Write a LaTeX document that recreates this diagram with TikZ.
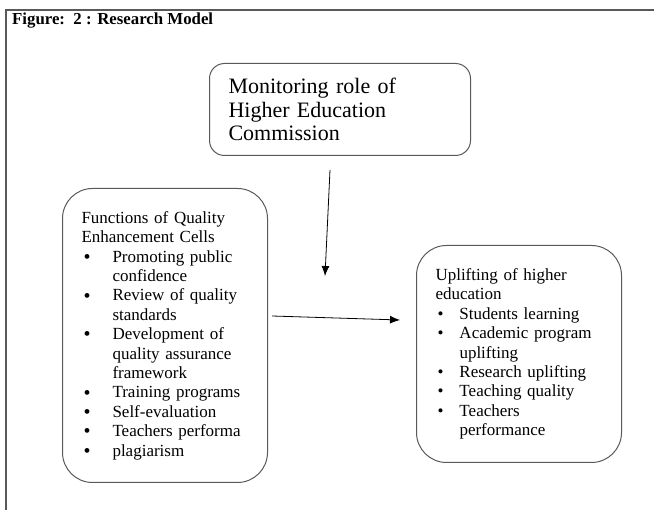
\documentclass[tikz,border=0pt]{standalone}
\usepackage{fontspec}
\setmainfont{Liberation Serif}
\usetikzlibrary{arrows.meta}

\tikzset{
  roundbox/.style={draw=black!65, line width=1pt, align=left, anchor=north west,
    inner xsep=19pt, inner ysep=0pt},
  flow/.style={-{Latex[length=10pt,width=8pt]}, line width=0.8pt},
  frameline/.style={draw=black!65, line width=1.3pt},
}
\newcommand{\bigbul}{\makebox[31pt][l]{\hspace{2pt}\smash{\raisebox{-1.2pt}{\fontsize{20}{19.4}\selectfont\textbullet}}}}
\newcommand{\smallbul}{\makebox[24pt][l]{\hspace{2pt}\textbullet}}

\begin{document}
\begin{tikzpicture}[x=1pt,y=-1pt]
\useasboundingbox (0,0) rectangle (654,510);

% page frame and title:
\draw[frameline] (6,510) -- (6,10) -- (654,10);
\node[anchor=west, font=\fontsize{16.8}{18}\selectfont\bfseries, inner sep=0pt] (title) at (12,21) {Figure:\ \ 2 : Research Model};

% monitoring box:
\node[roundbox, rounded corners=15pt, text width=223pt, minimum height=92pt,
  font=\fontsize{22}{23.5}\selectfont] (hec) at (209,63)
  {Monitoring role of\\Higher Education\\Commission};

% quality enhancement cells:
\node[roundbox, rounded corners=30pt, text width=167pt, minimum height=294pt,
  font=\fontsize{17}{19.4}\selectfont] (qec) at (62,188)
  {Functions of Quality\\Enhancement Cells\\
   \bigbul Promoting public\\\hspace*{31pt}confidence\\
   \bigbul Review of quality\\\hspace*{31pt}standards\\
   \bigbul Development of\\\hspace*{31pt}quality assurance\\\hspace*{31pt}framework\\
   \bigbul Training programs\\
   \bigbul Self-evaluation\\
   \bigbul Teachers performa\\
   \bigbul plagiarism\\[28pt]};

% uplifting box:
\node[roundbox, rounded corners=30pt, text width=167pt, minimum height=217pt,
  font=\fontsize{17}{19.4}\selectfont] (uhe) at (416,245)
  {Uplifting of higher\\education\\
   \smallbul Students learning\\
   \smallbul Academic program\\\hspace*{24pt}uplifting\\
   \smallbul Research uplifting\\
   \smallbul Teaching quality\\
   \smallbul Teachers\\\hspace*{24pt}performance};

% arrows:
\coordinate (downStart) at (330,170);
\coordinate (downEnd) at (325,276);
\coordinate (rightStart) at (272,316);
\coordinate (rightEnd) at (400,320);
\draw[flow] (downStart) -- (downEnd);
\draw[flow] (rightStart) -- (rightEnd);

\end{tikzpicture}
\end{document}
